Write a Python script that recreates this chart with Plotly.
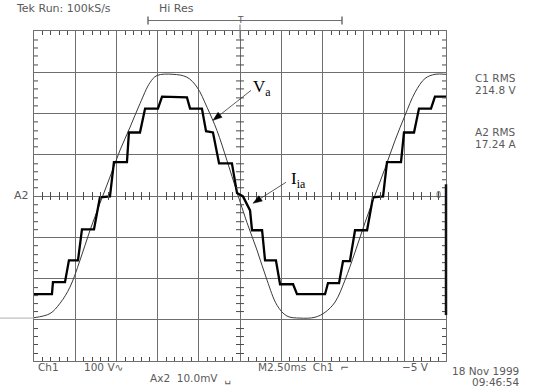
import math
import plotly.graph_objects as go

# ---------------- data ----------------
# Phase voltage Va (thin trace), time in ms, volts (100 V/div)
va_t = [0.00, 0.97, 1.58, 2.18, 2.79, 3.40, 4.00, 4.61, 5.22, 5.83, 6.43, 7.04, 7.46,
        8.43, 9.28, 9.89, 10.50, 11.10, 11.71, 12.32, 12.92, 13.53, 14.14, 14.75,
        15.35, 16.14, 17.05, 17.66, 18.27, 18.87, 19.48, 20.09, 20.69, 21.30, 21.91,
        22.51, 23.12, 23.73, 24.33, 25.00]
va_v = [-295, -285, -260, -221, -156, -83, -18, 46, 111, 167, 224, 275, 292,
        295, 288, 264, 215, 159, 86, 9, -64, -131, -204, -265,
        -291, -296, -294, -282, -257, -204, -136, -64, 2, 67, 135,
        195, 251, 285, 295, 295]

# Input current Iia (thick stepped trace), time in ms, amps (10 A/div)
ia_t = [0.00, 1.09, 1.15, 1.88, 2.12, 2.67, 2.91, 3.64, 4.00, 4.61, 4.85, 5.64, 5.76,
        6.43, 6.74, 7.52, 7.77, 9.28, 9.47, 10.19, 10.44, 10.86, 11.23, 12.01, 12.32,
        12.68, 13.11, 13.23, 13.84, 14.02, 14.68, 14.93, 15.72, 15.96, 17.66, 17.84,
        18.51, 18.75, 19.17, 19.48, 20.21, 20.57, 21.18, 21.42, 22.27, 22.45, 23.06,
        23.36, 24.09, 24.33, 25.00]
ia_a = [-23.8, -23.8, -20.9, -20.9, -15.6, -15.6, -8.1, -8.1, -0.3, -0.1, 8.2, 8.2, 15.4,
        15.4, 21.2, 21.2, 24.1, 23.9, 21.2, 21.2, 15.7, 15.4, 7.9, 7.9, 0.7,
        -0.1, -3.5, -8.3, -8.3, -15.6, -15.6, -21.4, -21.4, -23.8, -23.8, -21.1,
        -21.1, -15.8, -15.8, -8.3, -8.3, -0.3, -0.1, 8.2, 8.2, 15.4, 15.4,
        21.2, 21.2, 24.1, 24.1]

# ---------------- layout geometry (pixels) ----------------
W, H = 542, 389
L, R, T, B = 34, 446, 30.5, 361
CX, CY = (L + R) / 2, (T + B) / 2


def px(x):
    return (x - L) / (R - L)


def py(y):
    return (B - y) / (B - T)


GRID = "#6e6e6e"
TICK = "#4a4a4a"
TXT = "#5a5a5a"
SCOPE_FONT = "DejaVu Sans"

fig = go.Figure()
fig.add_trace(go.Scatter(x=va_t, y=va_v, mode="lines", line=dict(color="#3a3a3a", width=1),
                         line_shape="spline", hoverinfo="skip", showlegend=False))
fig.add_trace(go.Scatter(x=ia_t, y=ia_a, mode="lines", yaxis="y2",
                         line=dict(color="#000000", width=2.3), hoverinfo="skip", showlegend=False))

fig.update_layout(
    width=W, height=H, autosize=False,
    margin=dict(l=L, r=W - R, t=T, b=H - B, pad=0),
    paper_bgcolor="white", plot_bgcolor="white",
    xaxis=dict(range=[0, 25], dtick=2.5, showgrid=True, gridcolor=GRID, gridwidth=1,
               showline=True, linecolor=GRID, linewidth=1, mirror=True,
               ticks="", showticklabels=False, zeroline=False),
    yaxis=dict(range=[-400, 400], dtick=100, showgrid=True, gridcolor=GRID, gridwidth=1,
               showline=True, linecolor=GRID, linewidth=1, mirror=True,
               ticks="", showticklabels=False, zeroline=False),
    yaxis2=dict(range=[-40, 40], overlaying="y", visible=False),
)

shapes = []


def seg(x0, y0, x1, y1, color=GRID, width=1):
    shapes.append(dict(type="line", xref="paper", yref="paper", x0=px(x0), x1=px(x1),
                       y0=py(y0), y1=py(y1), line=dict(color=color, width=width), layer="above"))


# graticule minor ticks: 5 per division (10 x 8 divisions)
TL = 4
for i in range(1, 50):
    if i % 5 == 0:
        continue
    x = round(L + i * (R - L) / 50) + 0.5
    seg(x, T, x, T + TL, color=TICK)
    seg(x, B, x, B - TL, color=TICK)
    seg(x, CY - TL, x, CY + TL, color=TICK)
for j in range(1, 40):
    if j % 5 == 0:
        continue
    y = round(T + j * (B - T) / 40) + 0.5
    seg(L, y, L + TL, y, color=TICK)
    seg(R, y, R - TL, y, color=TICK)
    seg(CX - TL, y, CX + TL, y, color=TICK)

# trigger bracket
seg(148, 20, 342, 20)
for bx in (148, 342):
    seg(bx, 16, bx, 24, width=1.5)
seg(240, 24, 240, 38)
# channel markers
seg(0, 318, 34, 318, color="#b0b0b0")
seg(446, 184, 446, 315, color="#111111", width=2.5)


def arrow(tx, ty, hx, hy, head=9, half=3.2):
    dx, dy = hx - tx, hy - ty
    n = math.hypot(dx, dy)
    ux, uy = dx / n, dy / n
    bx, by = hx - ux * head, hy - uy * head
    seg(tx, ty, bx, by, color="#333333", width=0.8)
    p1 = (bx - uy * half, by + ux * half)
    p2 = (bx + uy * half, by - ux * half)
    path = "M {} {} L {} {} L {} {} Z".format(px(hx), py(hy), px(p1[0]), py(p1[1]),
                                              px(p2[0]), py(p2[1]))
    shapes.append(dict(type="path", xref="paper", yref="paper", path=path,
                       fillcolor="#000000", line=dict(color="#000000", width=0.5), layer="above"))


arrow(251, 90, 213, 120)
arrow(286, 182, 253, 203)
fig.update_layout(shapes=shapes)


def txt(s, x, y, xanchor="left", size=10.5, color=TXT, family=SCOPE_FONT):
    fig.add_annotation(text=s, x=px(x), y=py(y), xref="paper", yref="paper", showarrow=False,
                       xanchor=xanchor, yanchor="middle", font=dict(size=size, color=color, family=family))


# header
txt("Tek Run: 100kS/s", 14, 8, size=11)
txt("Hi Res", 157, 8, size=11)
txt("T", 240, 19, xanchor="center", size=9)

# right readouts
txt("C1 RMS", 495, 78, xanchor="center")
txt("214.8 V", 495, 90, xanchor="center")
txt("A2 RMS", 495, 132, xanchor="center")
txt("17.24 A", 495, 144, xanchor="center")

# bottom readouts
txt("Ch1", 36, 367)
txt("100 V∿", 82, 367)
txt("Ax2  10.0mV  ␣", 148, 379)
txt("M2.50ms  Ch1  ⌐", 256, 367)
txt("−5 V", 431, 367, xanchor="right")
txt("18 Nov 1999", 450, 371)
txt("09:46:54", 470, 382)

# channel markers
txt("A2", 31, 195, xanchor="right", size=11)
txt("0", 438, 195, xanchor="center", size=8)

# trace labels
txt("V<sub>a</sub>", 251, 88, size=17, color="#000000", family="Liberation Serif")
txt("I<sub>ia</sub>", 289, 180, size=17, color="#000000", family="Liberation Serif")

fig.write_html("out.html")
